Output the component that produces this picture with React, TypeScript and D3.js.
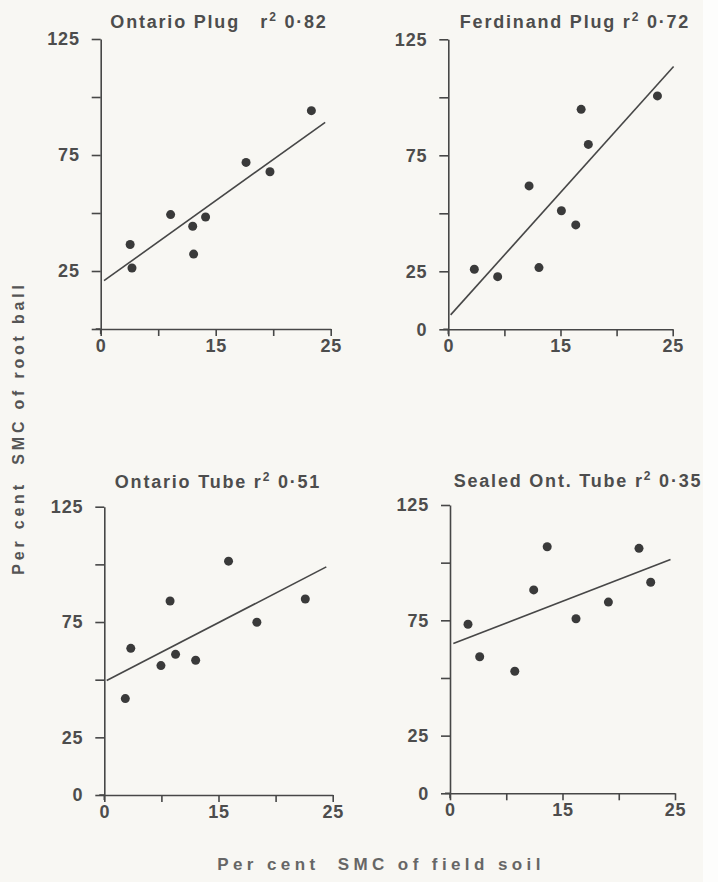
import { useEffect, useRef } from 'react';
import * as d3 from 'd3';

// tick values (the printed x labels sit 0 / middle / end)
const xTickValues = [0, 6.25, 12.5, 18.75, 25];
const xTickLabels = ['0', '', '15', '', '25'];
const yTickValues = [0, 25, 50, 75, 100, 125];
const yTickLabels = ['0', '25', '', '75', '', '125'];

const panelNames = ['Ontario Plug', 'Ferdinand Plug', 'Ontario Tube', 'Sealed Ont. Tube'];
const panelR2 = ['0·82', '0·72', '0·51', '0·35'];
const showYZero = [false, true, true, true];

// field soil SMC (x) vs root ball SMC (y)
const ontPlugX = [3.2, 3.4, 7.6, 10.0, 10.1, 11.4, 15.8, 18.4, 22.9];
const ontPlugY = [36.4, 26.3, 49.3, 44.3, 32.3, 48.3, 71.8, 67.8, 94.1];
const ferdPlugX = [2.9, 5.5, 9.0, 10.1, 12.6, 14.2, 14.8, 15.6, 23.3];
const ferdPlugY = [25.9, 22.7, 61.8, 26.6, 51.1, 45.0, 94.8, 79.7, 100.6];
const ontTubeX = [2.3, 2.9, 6.2, 7.2, 7.8, 10.0, 13.6, 16.7, 22.0];
const ontTubeY = [41.8, 63.6, 56.1, 84.1, 61.0, 58.4, 101.4, 74.9, 85.0];
const sealTubeX = [2.0, 3.3, 7.2, 9.3, 10.8, 14.0, 17.6, 21.0, 22.3];
const sealTubeY = [73.3, 59.2, 52.9, 88.2, 106.9, 75.7, 82.9, 106.2, 91.5];

// fitted lines: intercept, slope, x start, x end
const fitIntercept = [19.8, 5.1, 49.1, 64.4];
const fitSlope = [2.84, 4.31, 2.05, 1.51];
const fitFrom = [0.36, 0.26, 0.26, 0.37];
const fitTo = [24.4, 25.1, 24.3, 24.5];

const seriesX = [ontPlugX, ferdPlugX, ontTubeX, sealTubeX];
const seriesY = [ontPlugY, ferdPlugY, ontTubeY, sealTubeY];

// plot frames in page pixels
const frames = [
  { x0: 100.7, x1: 330.7, y0: 329, y1: 39, tx: 219, ty: 28 },
  { x0: 448.3, x1: 672.7, y0: 329.3, y1: 39.3, tx: 575, ty: 28 },
  { x0: 104.3, x1: 332.7, y0: 795, y1: 506.7, tx: 218, ty: 488 },
  { x0: 450, x1: 675, y0: 793.3, y1: 505, tx: 578, ty: 487 },
];

const ink = '#474747';
const font = '"Liberation Sans", Arial, sans-serif';

export default function App() {
  const svgRef = useRef(null);

  useEffect(() => {
    const svg = d3.select(svgRef.current);
    svg.selectAll('*').remove();

    svg.append('rect').attr('width', 718).attr('height', 882).attr('fill', '#f8f7f3');
    svg.append('rect').attr('x', 703).attr('width', 15).attr('height', 882).attr('fill', '#fdfdfc');

    frames.forEach((f, i) => {
      const x = d3.scaleLinear().domain([0, 25]).range([f.x0, f.x1]);
      const y = d3.scaleLinear().domain([0, 125]).range([f.y0, f.y1]);
      const g = svg.append('g');

      const xAxis = d3.axisBottom(x)
        .tickValues(xTickValues)
        .tickSize(7)
        .tickSizeOuter(0)
        .tickPadding(3)
        .tickFormat((d, k) => xTickLabels[k]);
      const yAxis = d3.axisLeft(y)
        .tickValues(yTickValues)
        .tickSize(9)
        .tickSizeOuter(0)
        .tickPadding(12)
        .tickFormat((d, k) => (k === 0 && !showYZero[i]) ? '' : yTickLabels[k]);

      g.append('g').attr('transform', `translate(0,${f.y0})`).call(xAxis);
      g.append('g').attr('transform', `translate(${f.x0},0)`).call(yAxis);

      // small overhang of the axes past the origin
      g.append('line').attr('x1', f.x0 - 5).attr('x2', f.x0).attr('y1', f.y0).attr('y2', f.y0);
      g.append('line').attr('x1', f.x0).attr('x2', f.x0).attr('y1', f.y0).attr('y2', f.y0 + 5);

      g.selectAll('.domain, .tick line, line').attr('stroke', ink).attr('stroke-width', 1.6);
      g.selectAll('.tick text')
        .attr('fill', '#4d4d4d')
        .style('font-family', font)
        .style('font-size', '18px')
        .style('font-weight', 'bold')
        .style('letter-spacing', '0.8px');

      const b = fitIntercept[i], m = fitSlope[i];
      g.append('line')
        .attr('x1', x(fitFrom[i])).attr('y1', y(b + m * fitFrom[i]))
        .attr('x2', x(fitTo[i])).attr('y2', y(b + m * fitTo[i]))
        .attr('stroke', ink)
        .attr('stroke-width', 1.6);

      g.selectAll('.dot')
        .data(seriesX[i].map((v, k) => [v, seriesY[i][k]]))
        .enter()
        .append('circle')
        .attr('cx', d => x(d[0]))
        .attr('cy', d => y(d[1]))
        .attr('r', 4.5)
        .attr('fill', '#3a3a3a');

      const t = g.append('text')
        .attr('x', f.tx)
        .attr('y', f.ty)
        .attr('text-anchor', 'middle')
        .attr('fill', '#4d4d4d')
        .style('font-family', font)
        .style('font-size', '18px')
        .style('font-weight', 'bold')
        .style('letter-spacing', '1.8px')
        .style('white-space', 'pre');
      t.append('tspan').text(panelNames[i] + (i === 0 ? '   r' : ' r'));
      t.append('tspan').attr('dy', -7).style('font-size', '12px').text('2');
      t.append('tspan').attr('dy', 7).text(' ' + panelR2[i]);
    });

    svg.append('text')
      .attr('transform', 'translate(24,428) rotate(-90)')
      .attr('text-anchor', 'middle')
      .attr('fill', '#555')
      .style('font-family', font)
      .style('font-size', '16px')
      .style('font-weight', 'bold')
      .style('letter-spacing', '3.8px')
      .style('white-space', 'pre')
      .text('Per cent  SMC of root ball');

    svg.append('text')
      .attr('x', 381)
      .attr('y', 870)
      .attr('text-anchor', 'middle')
      .attr('fill', '#666')
      .style('font-family', font)
      .style('font-size', '17px')
      .style('font-weight', 'bold')
      .style('letter-spacing', '4.4px')
      .style('white-space', 'pre')
      .text('Per cent  SMC of field soil');
  }, []);

  return (
    <svg
      ref={svgRef}
      width={718}
      height={882}
      style={{ position: 'absolute', left: 0, top: 0, display: 'block' }}
    />
  );
}
